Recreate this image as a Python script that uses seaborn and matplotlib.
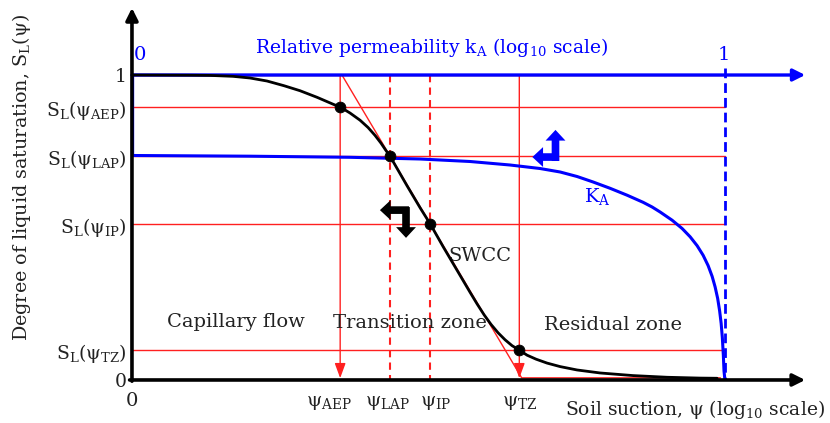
import matplotlib
matplotlib.use("Agg")
import matplotlib.pyplot as plt
import matplotlib.transforms as mtransforms
from matplotlib.patches import FancyArrowPatch
import seaborn as sns
import pandas as pd

# --- key suction points (normalised log-suction axis) and their saturations ---
psi_names = ["AEP", "LAP", "IP", "TZ"]
psi_pos = [0.351, 0.435, 0.503, 0.653]
sat_levels = [0.895, 0.734, 0.511, 0.098]

# --- soil-water characteristic curve ---
swcc_x = [0.0, 0.0978, 0.1315, 0.1703, 0.1990, 0.2277, 0.2563, 0.2833, 0.3120,
          0.3390, 0.351, 0.3676, 0.3845, 0.3980, 0.4098, 0.4199, 0.4283, 0.435,
          0.4637, 0.4857, 0.503, 0.5245, 0.5481, 0.5700, 0.5818, 0.5936, 0.6054,
          0.6172, 0.6290, 0.6408, 0.653, 0.6661, 0.6813, 0.6998, 0.7218, 0.7504,
          0.7892, 0.8449, 0.9022, 0.9578, 0.9865]
swcc_s = [1.0, 0.9993, 0.9987, 0.9957, 0.9902, 0.9803, 0.9649, 0.9485, 0.9269,
          0.9043, 0.895, 0.8754, 0.8518, 0.8279, 0.8020, 0.7764, 0.7521, 0.734,
          0.6370, 0.5649, 0.511, 0.4374, 0.3597, 0.2875, 0.2495, 0.2138, 0.1820,
          0.1548, 0.1318, 0.1125, 0.098, 0.0813, 0.0682, 0.0554, 0.0439, 0.0328,
          0.0230, 0.0144, 0.0089, 0.0062, 0.0056]

# --- relative air permeability curve ---
ka_x = [0.0, 0.1990, 0.3676, 0.4857, 0.5700, 0.6374, 0.6880, 0.7218, 0.7504,
        0.7774, 0.8061, 0.8347, 0.8617, 0.8769, 0.8904, 0.9106, 0.9275, 0.9410,
        0.9528, 0.9629, 0.9713, 0.9781, 0.9831, 0.9874, 0.9907, 0.9933, 0.9953,
        0.9970, 0.9981, 0.9993, 1.0]
ka_s = [0.7361, 0.7338, 0.7302, 0.7246, 0.7164, 0.7049, 0.6934, 0.6820, 0.6672,
        0.6492, 0.6285, 0.6059, 0.5826, 0.5672, 0.5508, 0.5239, 0.4967, 0.4695,
        0.4403, 0.4089, 0.3751, 0.3397, 0.3052, 0.2675, 0.2269, 0.1852, 0.1384,
        0.0803, 0.0295, 0.0066, 0.0]

# --- tangent construction through the inflection point ---
tan_x = [0.354, 0.657, 0.992]
tan_s = [1.0, 0.007, 0.007]

sns.set_theme(style="white")
plt.rcParams["font.family"] = ["DejaVu Serif"]
plt.rcParams["mathtext.fontset"] = "custom"
plt.rcParams["mathtext.rm"] = "DejaVu Serif"
plt.rcParams["mathtext.default"] = "regular"

BLUE = "#0000ff"
RED = "#ff2020"
INK = "#222222"
FS = 14        # in-plot zone labels
LFS = 13.5     # axis titles
TFS = 13.5     # tick labels

fig = plt.figure(figsize=(8.3, 4.23), dpi=100)
ax = fig.add_axes([0.159, 0.1017, 0.829, 0.894])
ax.set_xlim(0, 1.16)
ax.set_ylim(0, 1.24)
for sp in ax.spines.values():
    sp.set_visible(False)

# red reference grid: saturation levels and suction markers
for s in sat_levels + [1.0]:
    ax.plot([0, 1.0], [s, s], color=RED, lw=1.0, zorder=2)
for name, x in zip(psi_names, psi_pos):
    if name in ("LAP", "IP"):
        ax.plot([x, x], [1.0, 0.0], color=RED, lw=1.5, ls=(0, (3.5, 2.5)), zorder=2)
    else:
        ax.annotate("", xy=(x, 0.006), xytext=(x, 1.0),
                    arrowprops=dict(arrowstyle="-|>,head_length=0.6,head_width=0.22",
                                    color=RED, lw=1.0, mutation_scale=15,
                                    shrinkA=0, shrinkB=0),
                    zorder=2)

# tangent line
sns.lineplot(x=tan_x, y=tan_s, ax=ax, color=RED, lw=1.0, sort=False,
             estimator=None, zorder=3)

# permeability frame: left edge, dashed limit at kA = 1 and top axis
ax.plot([0, 0], [1.0, ka_s[0]], color=BLUE, lw=2.4, zorder=4)
ax.plot([1.0, 1.0], [1.023, 0.0], color=BLUE, lw=2.0, ls=(0, (3.5, 1.8)), zorder=4)
ax.annotate("", xy=(1.135, 1.0), xytext=(0, 1.0),
            arrowprops=dict(arrowstyle="-|>", color=BLUE, lw=2.4,
                            mutation_scale=18, shrinkA=0, shrinkB=0),
            annotation_clip=False, zorder=5)

# curves
curves = pd.DataFrame({"x": swcc_x, "s": swcc_s})
sns.lineplot(data=curves, x="x", y="s", ax=ax, color="black", lw=2.0,
             sort=False, estimator=None, zorder=6)
kcurve = pd.DataFrame({"x": ka_x, "s": ka_s})
sns.lineplot(data=kcurve, x="x", y="s", ax=ax, color=BLUE, lw=2.2,
             sort=False, estimator=None, zorder=5)
for line in ax.lines:
    line.set_solid_joinstyle("round")

# characteristic points on the SWCC
sns.scatterplot(x=psi_pos, y=sat_levels, ax=ax, color="black", s=60,
                edgecolor="black", zorder=7)

# main axes with arrow heads
ax.annotate("", xy=(0, 1.22), xytext=(0, -0.004),
            arrowprops=dict(arrowstyle="-|>", color="black", lw=2.6,
                            mutation_scale=18, shrinkA=0, shrinkB=0),
            annotation_clip=False, zorder=8)
ax.annotate("", xy=(1.135, 0), xytext=(-0.004, 0),
            arrowprops=dict(arrowstyle="-|>", color="black", lw=2.6,
                            mutation_scale=18, shrinkA=0, shrinkB=0),
            annotation_clip=False, zorder=8)

# direction arrows
def bent_arrow(p0, p1, color):
    ax.add_patch(FancyArrowPatch(p0, p1, arrowstyle="simple,head_length=0.7,head_width=1.3,tail_width=0.5",
                                 mutation_scale=11, color=color, lw=0,
                                 shrinkA=0, shrinkB=0, zorder=9))

bent_arrow((0.467, 0.557), (0.418, 0.557), "black")
bent_arrow((0.462, 0.567), (0.462, 0.466), "black")
bent_arrow((0.720, 0.731), (0.675, 0.731), BLUE)
bent_arrow((0.714, 0.718), (0.714, 0.820), BLUE)

# ticks
ax.set_yticks([0.0] + sat_levels[::-1] + [1.0])
ax.set_yticklabels(["0"] + [f"S$_{{L}}$(ψ$_{{{n}}}$)" for n in psi_names[::-1]] + ["1"])
ax.set_xticks([0.0] + psi_pos)
ax.set_xticklabels(["0"] + [f"ψ$_{{{n}}}$" for n in psi_names])
ax.tick_params(axis="y", length=0, pad=4, labelsize=TFS, labelcolor=INK)
ax.tick_params(axis="x", length=0, pad=19, labelsize=FS, labelcolor=INK)
# spread the crowded suction labels a little
nudges = [0, -11, -2, 5, 0]
for tick, dx in zip(ax.xaxis.get_major_ticks(), nudges):
    lab = tick.label1
    lab.set_verticalalignment("baseline")
    lab.set_transform(lab.get_transform()
                      + mtransforms.ScaledTranslation(dx / 100, 0, fig.dpi_scale_trans))

ax.set_ylabel("Degree of liquid saturation, S$_{L}$(ψ)", fontsize=13.8, color=INK, va="center")
ax.yaxis.set_label_coords(-0.16, 0.537)
ax.set_xlabel("Soil suction, ψ (log$_{10}$ scale)", fontsize=LFS, color=INK, va="center")
ax.xaxis.set_label_coords(0.818, -0.079)

# annotations
ax.text(0.506, 1.089, "Relative permeability k$_{A}$ (log$_{10}$ scale)", color=BLUE,
        fontsize=LFS, ha="center", va="center")
ax.text(0.0135, 1.066, "0", color=BLUE, fontsize=FS, ha="center", va="center")
ax.text(0.997, 1.066, "1", color=BLUE, fontsize=FS, ha="center", va="center")
ax.text(0.784, 0.600, "K$_{A}$", color=BLUE, fontsize=FS, ha="center", va="center")
ax.text(0.587, 0.407, "SWCC", color=INK, fontsize=FS, ha="center", va="center")
ax.text(0.175, 0.190, "Capillary flow", color=INK, fontsize=FS, ha="center", va="center")
ax.text(0.469, 0.187, "Transition zone", color=INK, fontsize=FS, ha="center", va="center")
ax.text(0.811, 0.180, "Residual zone", color=INK, fontsize=FS, ha="center", va="center")

fig.savefig("out.png", dpi=100, facecolor="white")
